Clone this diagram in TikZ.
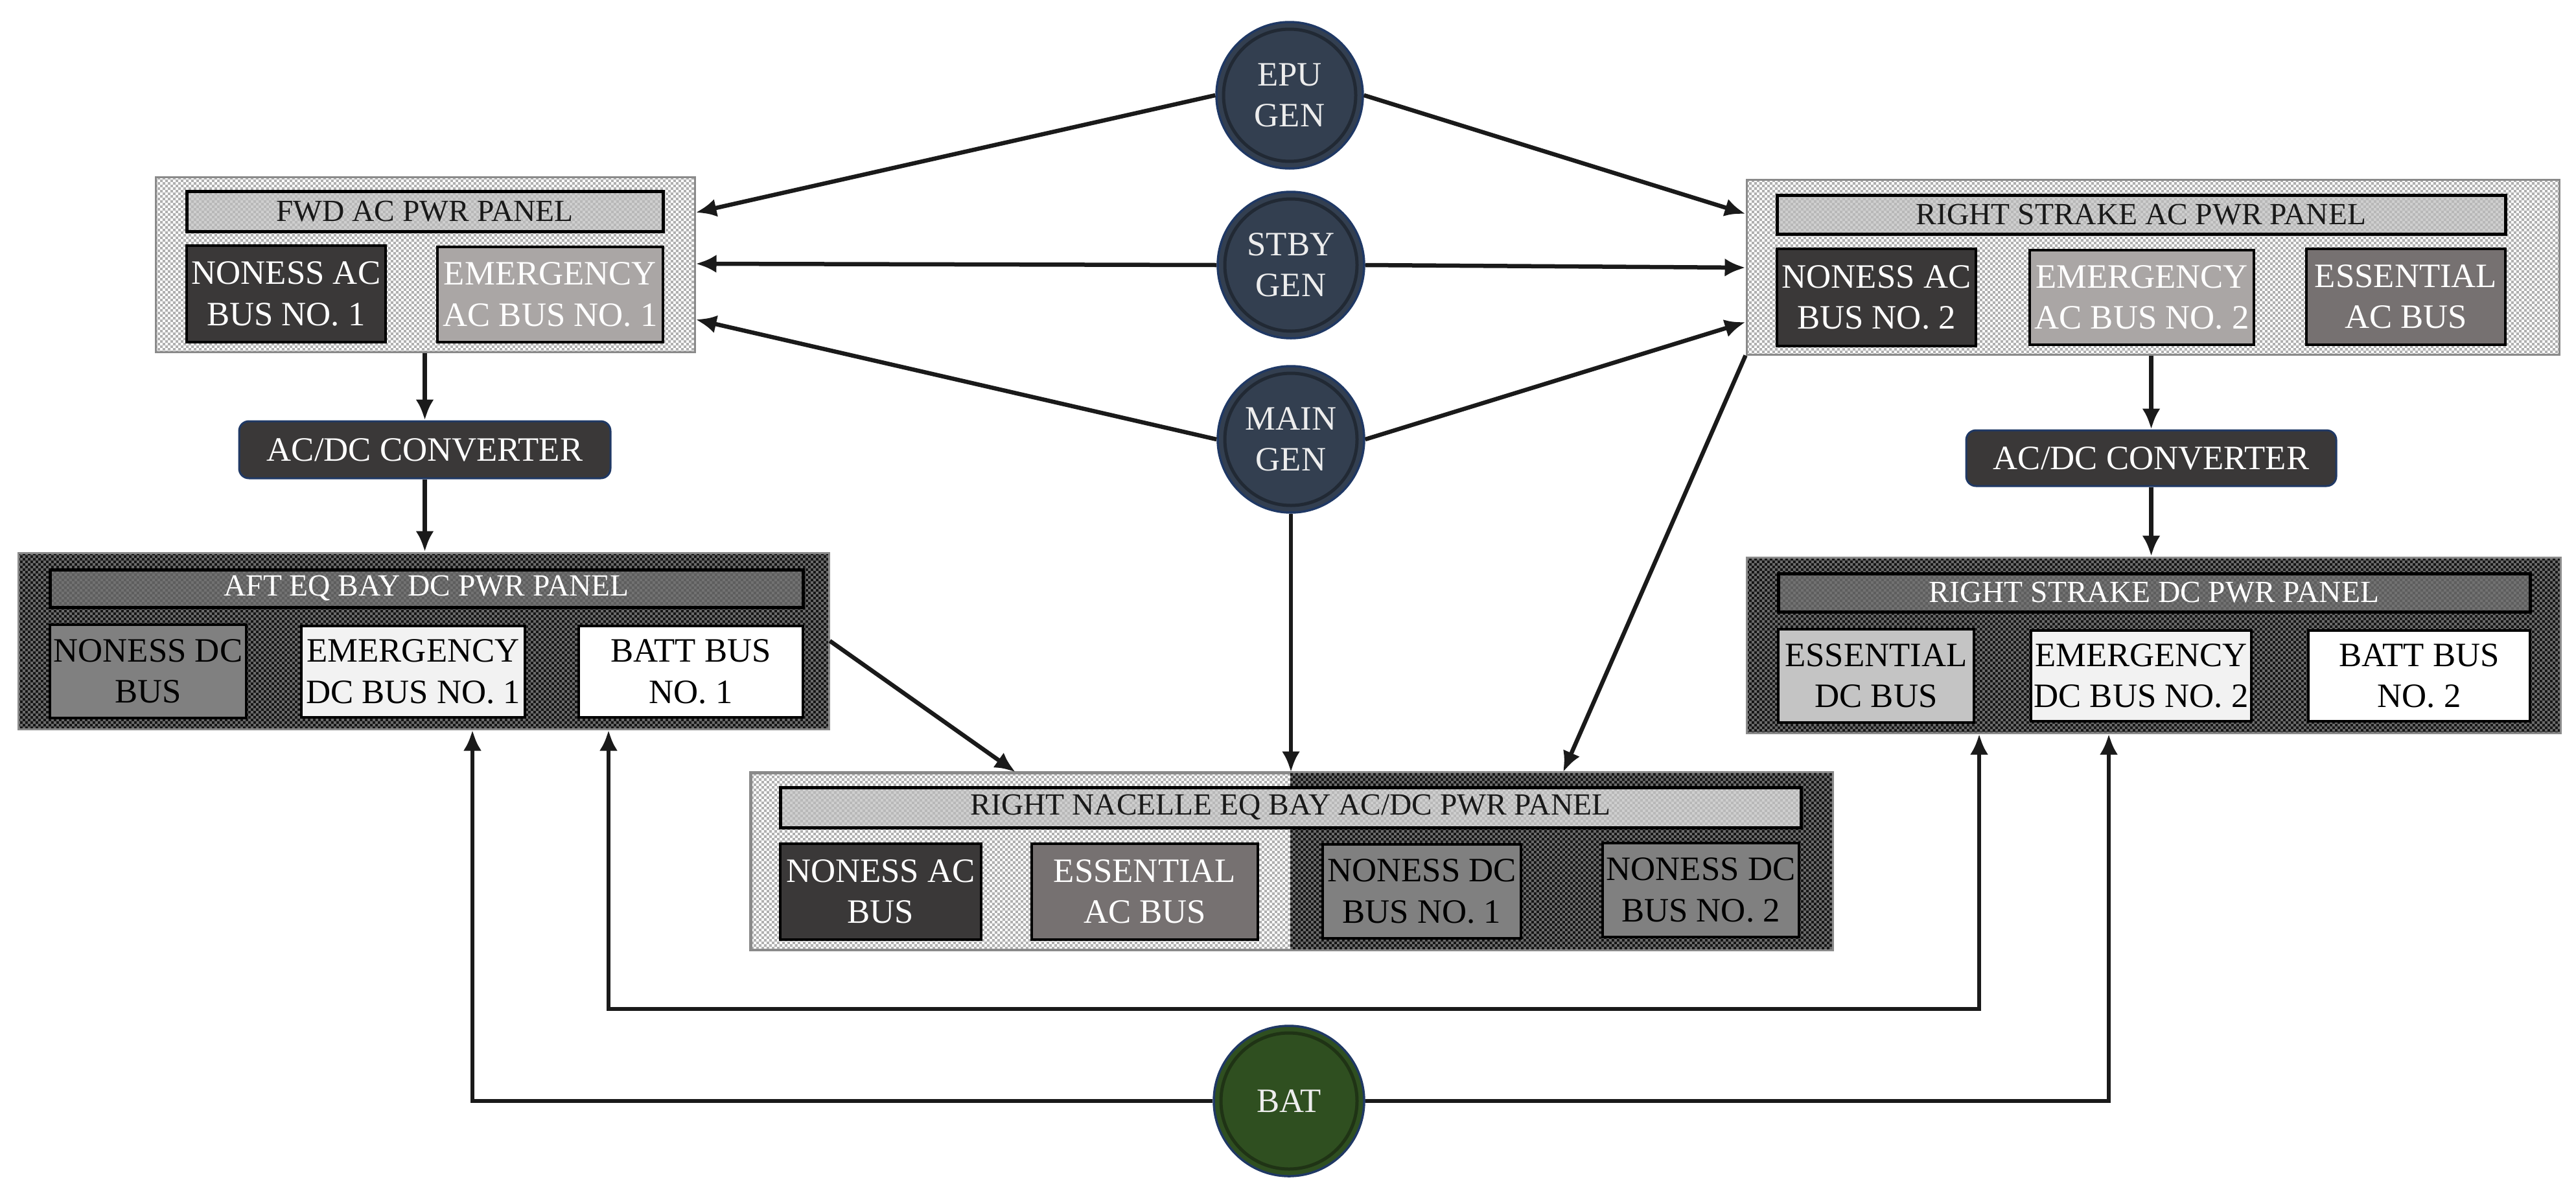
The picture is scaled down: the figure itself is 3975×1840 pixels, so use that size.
\documentclass[tikz,border=0pt]{standalone}
\usepackage{fontspec}
\setmainfont{Liberation Serif}
\usetikzlibrary{arrows.meta,patterns.meta,calc}

\definecolor{navy}{HTML}{333F50}
\definecolor{navyedge}{HTML}{1F3864}
\definecolor{batgreen}{HTML}{2F4F20}
\definecolor{convfill}{HTML}{3A3838}
\definecolor{busdark}{HTML}{3A3838}
\definecolor{busemac}{HTML}{AAA6A5}
\definecolor{busessac}{HTML}{767171}
\definecolor{busnondc}{HTML}{808080}
\definecolor{busemdc}{HTML}{F2F2F2}
\definecolor{busessdc}{HTML}{C4C4C4}
\definecolor{lpat}{HTML}{B0B0B0}
\definecolor{dbase}{HTML}{151515}
\definecolor{dpat}{HTML}{6A6A6A}
\definecolor{tlbase}{HTML}{CFCFCF}
\definecolor{tlpat}{HTML}{B8B8B8}
\definecolor{tdbase}{HTML}{727272}
\definecolor{tdpat}{HTML}{5E5E5E}
\definecolor{panedge}{HTML}{8A8A8A}
\definecolor{lighttext}{HTML}{EDEDED}
\definecolor{linecol}{HTML}{1A1A1A}

\tikzdeclarepattern{
  name=finecheck,
  type=uncolored,
  bounding box={(0mm,0mm) and (0.8mm,0.8mm)},
  tile size={(0.8mm,0.8mm)},
  code={\fill (0mm,0mm) rectangle (0.4mm,0.4mm); \fill (0.4mm,0.4mm) rectangle (0.8mm,0.8mm);}
}

\tikzset{
  lightfill/.style={preaction={fill=white}, pattern=finecheck, pattern color=lpat},
  darkfill/.style={preaction={fill=dbase}, pattern=finecheck, pattern color=dpat},
  panelL/.style={rectangle, inner sep=0pt, draw=panedge, line width=0.3mm, lightfill},
  panelD/.style={rectangle, inner sep=0pt, draw=panedge, line width=0.3mm, darkfill},
  titleL/.style={rectangle, inner sep=0pt, draw=black, line width=0.5mm,
    preaction={fill=tlbase}, pattern=finecheck, pattern color=tlpat,
    text=black!90, font=\fontsize{13.5}{16}\selectfont},
  titleD/.style={rectangle, inner sep=0pt, draw=black, line width=0.5mm,
    preaction={fill=tdbase}, pattern=finecheck, pattern color=tdpat,
    text=white, font=\fontsize{13.5}{16}\selectfont},
  bus/.style={rectangle, inner sep=0pt, draw=black, line width=0.45mm, align=center,
    font=\fontsize{15}{18}\selectfont},
  gen/.style={circle, inner sep=0pt, minimum size=22.6mm, fill=navy, draw=navyedge,
    line width=0.35mm, text=lighttext, align=center, font=\fontsize{15}{18}\selectfont,
    path picture={\draw[black!35!navy, line width=0.5mm]
      (path picture bounding box.center) circle (10.2mm);}},
  batnode/.style={circle, inner sep=0pt, minimum size=23.2mm, fill=batgreen, draw=navyedge,
    line width=0.35mm, text=lighttext, align=center, font=\fontsize{15}{18}\selectfont,
    path picture={\draw[black!35!batgreen, line width=0.5mm]
      (path picture bounding box.center) circle (10.5mm);}},
  conv/.style={rectangle, inner sep=0pt, rounded corners=1.5mm, fill=convfill, draw=navyedge,
    line width=0.3mm, text=white, font=\fontsize{15}{18}\selectfont},
  arr/.style={draw=linecol, line width=0.65mm, -{Latex[length=3.2mm,width=2.8mm]}},
  arrboth/.style={draw=linecol, line width=0.65mm, {Latex[length=3.2mm,width=2.8mm]}-{Latex[length=3.2mm,width=2.8mm]}},
}

\begin{document}
\begin{tikzpicture}[x=0.1mm, y=-0.1mm]
\useasboundingbox (0,0) rectangle (3975,1840);

% ---------- FWD AC PWR PANEL ----------
\node[panelL, minimum width=83.2mm, minimum height=27mm] (fwd) at (656,408) {};
\node[titleL, minimum width=73.5mm, minimum height=6.2mm] (fwdt) at (655.5,326) {FWD AC PWR PANEL};
\node[bus, fill=busdark, text=white, minimum width=30.7mm, minimum height=14.9mm] (fwdn) at (441.5,453.5) {NONESS AC\\BUS NO. 1};
\node[bus, fill=busemac, text=white, minimum width=34.8mm, minimum height=14.7mm] (fwde) at (849,454.5) {EMERGENCY\\AC BUS NO. 1};

% ---------- RIGHT STRAKE AC PWR PANEL ----------
\node[panelL, minimum width=125.4mm, minimum height=27mm] (rsac) at (3322,412) {};
\node[titleL, minimum width=112.4mm, minimum height=6mm] (rsact) at (3304,331) {RIGHT STRAKE AC PWR PANEL};
\node[bus, fill=busdark, text=white, minimum width=30.7mm, minimum height=15mm] (rsacn) at (2895.5,459) {NONESS AC\\BUS NO. 2};
\node[bus, fill=busemac, text=white, minimum width=34.6mm, minimum height=14.6mm] (rsace) at (3305,459) {EMERGENCY\\AC BUS NO. 2};
\node[bus, fill=busessac, text=white, minimum width=30.7mm, minimum height=14.8mm] (rsacs) at (3712.5,458) {ESSENTIAL\\AC BUS};

% ---------- AFT EQ BAY DC PWR PANEL ----------
\node[panelD, minimum width=125.1mm, minimum height=27.2mm] (aft) at (653.5,989) {};
\node[titleD, minimum width=116.2mm, minimum height=5.8mm] (aftt) at (658,908) {AFT EQ BAY DC PWR PANEL};
\node[bus, fill=busnondc, minimum width=30.3mm, minimum height=14.4mm] (aftn) at (228.5,1036) {NONESS DC\\BUS};
\node[bus, fill=busemdc, minimum width=34.5mm, minimum height=14.1mm] (afte) at (637.5,1036.5) {EMERGENCY\\DC BUS NO. 1};
\node[bus, fill=white, minimum width=34.6mm, minimum height=14.1mm] (aftb) at (1066,1036.5) {BATT BUS\\NO. 1};

% ---------- RIGHT STRAKE DC PWR PANEL ----------
\node[panelD, minimum width=125.6mm, minimum height=27.1mm] (rsdc) at (3323,995.5) {};
\node[titleD, minimum width=116mm, minimum height=5.9mm] (rsdct) at (3324,914.5) {RIGHT STRAKE DC PWR PANEL};
\node[bus, fill=busessdc, minimum width=30.2mm, minimum height=14.4mm] (rsdcs) at (2895,1043) {ESSENTIAL\\DC BUS};
\node[bus, fill=busemdc, minimum width=34mm, minimum height=14mm] (rsdce) at (3304,1043) {EMERGENCY\\DC BUS NO. 2};
\node[bus, fill=white, minimum width=34.2mm, minimum height=14mm] (rsdcb) at (3733,1043) {BATT BUS\\NO. 2};

% ---------- RIGHT NACELLE EQ BAY AC/DC PWR PANEL ----------
\node[panelL, minimum width=166.8mm, minimum height=27.2mm] (nac) at (1993,1329) {};
\path[darkfill] (nac.north -| 1991,0) rectangle (nac.south east);
\draw[panedge, line width=0.3mm] (nac.north west) rectangle (nac.south east);
\node[titleL, minimum width=157.5mm, minimum height=6.2mm] (nact) at (1991.5,1246) {RIGHT NACELLE EQ BAY AC/DC PWR PANEL};
\node[bus, fill=busdark, text=white, minimum width=31mm, minimum height=14.8mm] (nacn) at (1359,1376) {NONESS AC\\BUS};
\node[bus, fill=busessac, text=white, minimum width=34.9mm, minimum height=14.8mm] (nacs) at (1766.5,1376) {ESSENTIAL\\AC BUS};
\node[bus, fill=busnondc, minimum width=30.6mm, minimum height=14.5mm] (nacd1) at (2194,1375.5) {NONESS DC\\BUS NO. 1};
\node[bus, fill=busnondc, minimum width=30.3mm, minimum height=14.5mm] (nacd2) at (2624.5,1373.5) {NONESS DC\\BUS NO. 2};

% ---------- Converters ----------
\node[conv, minimum width=57.3mm, minimum height=8.8mm] (convL) at (655.5,694) {AC/DC CONVERTER};
\node[conv, minimum width=57.1mm, minimum height=8.6mm] (convR) at (3319.5,707) {AC/DC CONVERTER};

% ---------- Generators ----------
\node[gen] (epu) at (1990,147) {EPU\\GEN};
\node[gen] (stby) at (1992,409) {STBY\\GEN};
\node[gen] (main) at (1992,678) {MAIN\\GEN};
\node[batnode] (bat) at (1989,1699) {BAT};

% ---------- Connectors ----------
\draw[arr] (epu.west) -- (fwd.east |- 0,328);
\draw[arr] (stby.west) -- (fwd.east |- 0,407);
\draw[arr] (main.west) -- (fwd.east |- 0,493);
\draw[arr] (epu.east) -- (rsac.west |- 0,330);
\draw[arr] (stby.east) -- (rsac.west |- 0,413);
\draw[arr] (main.east) -- (rsac.west |- 0,497);

\draw[arr] (main.south) -- (main.south |- nac.north);
\draw[arr] (rsac.south west) -- (2412,0 |- nac.north);
\draw[arr] (aft.east) -- (1567,0 |- nac.north);

\draw[arr] (convL.north |- fwd.south) -- (convL.north);
\draw[arr] (convL.south) -- (convL.south |- aft.north);
\draw[arr] (convR.north |- rsac.south) -- (convR.north);
\draw[arr] (convR.south) -- (convR.south |- rsdc.north);

\coordinate (lp1) at (939,1557);
\coordinate (lp2) at (3054,1557);
\draw[arr] (bat.west) -| (aft.south -| 729,0);
\draw[arr] (bat.east) -| (rsdc.south -| 3254,0);
\draw[arrboth] (aft.south -| lp1) -- (lp1) -- (lp2) -- (rsdc.south -| lp2);
\end{tikzpicture}
\end{document}
